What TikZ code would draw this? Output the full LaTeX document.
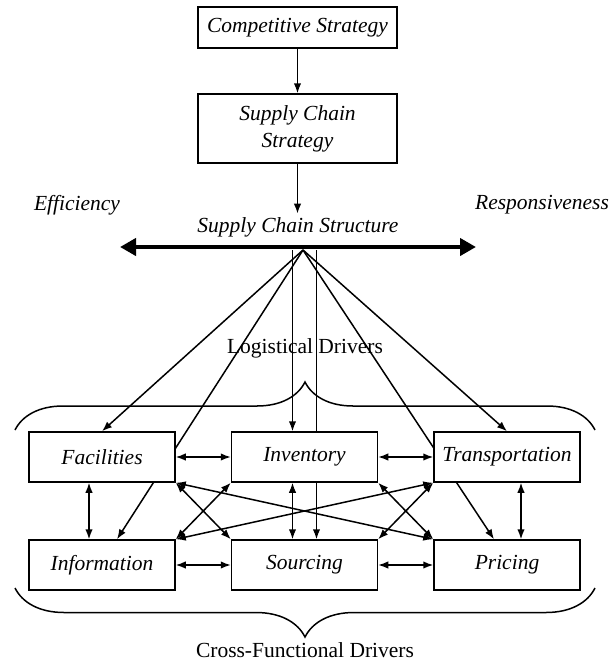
\documentclass[tikz,border=0pt]{standalone}
\usepackage{fontspec}
\setmainfont{Liberation Serif}
\usetikzlibrary{arrows.meta,decorations.pathreplacing,backgrounds}

\begin{document}
\begin{tikzpicture}[x=1pt, y=-1pt,
			>={Latex[length=10pt,width=7.5pt]},
			every node/.style={font=\fontsize{21.5}{27}\selectfont},
			stratbox/.style={draw, fill=white, line width=1.5pt, minimum width=199pt, align=center, font=\fontsize{21.5}{27}\selectfont\itshape},
			drvbox/.style={draw, fill=white, line width=1.5pt, minimum width=146pt, minimum height=50pt, font=\fontsize{21.5}{27}\selectfont\itshape},
			lbl/.style={font=\fontsize{21.5}{27}\selectfont\itshape},
			link/.style={line width=1.5pt}
		]
		\useasboundingbox (0,0) rectangle (611,662);

		\node[stratbox, minimum height=41pt] (comp) at (297.5,27.5) {Competitive Strategy};
		\node[stratbox, minimum height=69pt] (scs) at (297.5,128.5) {Supply Chain\\Strategy};

		\node[lbl] (scstruct) at (298,227) {Supply Chain Structure};
		\node[lbl] (eff) at (77,205) {Efficiency};
		\node[lbl] (resp) at (542,205) {Responsiveness};

		\draw[->, link] (comp) -- (scs);
		\draw[->, link] (scs.south) -- (scs.south |- scstruct.north);

		\coordinate (effend) at (120,247);
		\coordinate (resend) at (476,247);
		\coordinate (hub) at (303,250);

		\node[drvbox] (fac) at (102,457) {Facilities};
		\node[drvbox] (inv) at (304.5,457) {Inventory};
		\node[drvbox] (tra) at (507,457) {Transportation};
		\node[drvbox] (inf) at (102,565) {Information};
		\node[drvbox] (src) at (304.5,565) {Sourcing};
		\node[drvbox] (pri) at (507,565) {Pricing};

		\node (logdrv) at (305,348) {Logistical Drivers};
		\node (cfdrv) at (305,650) {Cross-Functional Drivers};

		\coordinate (invtop) at ([xshift=-12pt]inv.north);
		\coordinate (srctop) at ([xshift=12pt]src.north);

		\begin{scope}[on background layer]
			\draw[->, link] (hub) -- (fac.north);
			\draw[->, link] (hub) -- ([xshift=15pt]inf.north);
			\draw[->, link] (hub) -- (tra.north);
			\draw[->, link] (hub) -- ([xshift=-13pt]pri.north);
			\draw[->, link] (invtop |- hub) -- (invtop);
			\draw[->, link] (srctop |- hub) -- (srctop);
		\end{scope}

		\draw[<->, line width=4.5pt, >={Triangle[length=16pt,width=17pt]}] (effend) -- (resend);

		\draw[<->, link] (fac) -- (inv);
		\draw[<->, link] (inv) -- (tra);
		\draw[<->, link] (inf) -- (src);
		\draw[<->, link] (src) -- (pri);

		\draw[<->, link] ([xshift=-13pt]fac.south) -- ([xshift=-13pt]inf.north);
		\draw[<->, link] ([xshift=-12pt]inv.south) -- ([xshift=-12pt]src.north);
		\draw[<->, link] ([xshift=14pt]tra.south) -- ([xshift=14pt]pri.north);

		\draw[<->, link] (fac.south east) -- (src.north west);
		\draw[<->, link] (fac.south east) -- (pri.north west);
		\draw[<->, link] (inv.south west) -- (inf.north east);
		\draw[<->, link] (inv.south east) -- (pri.north west);
		\draw[<->, link] (tra.south west) -- (src.north east);
		\draw[<->, link] (tra.south west) -- (inf.north east);

		\coordinate (logL) at (15,430);
		\coordinate (logR) at (595,430);
		\coordinate (cfL) at (15,588);
		\coordinate (cfR) at (595,588);
		\draw[link, decorate, decoration={brace, amplitude=48pt}] (logL) -- (logR);
		\draw[link, decorate, decoration={brace, amplitude=49pt}] (cfR) -- (cfL);
	\end{tikzpicture}
\end{document}
